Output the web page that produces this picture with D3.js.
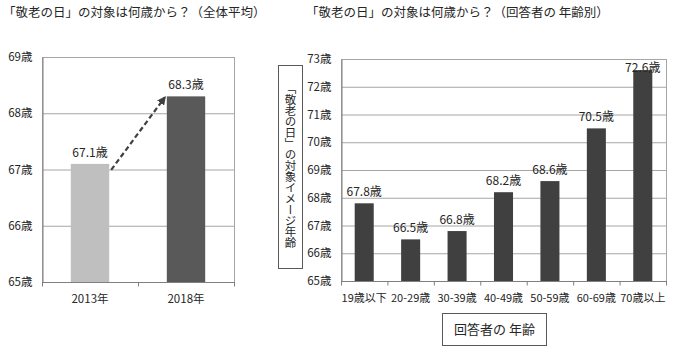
<!DOCTYPE html>
<html><head><meta charset="utf-8">
<script src="https://cdn.jsdelivr.net/npm/d3@7"></script>
<style>
body{margin:0;background:#fff;}
svg{display:block;font-family:"Noto Sans CJK JP","Noto Sans",sans-serif;}
</style></head>
<body><svg id="c" width="697" height="351"></svg>
<script>
// ---- data ----
const leftTitle = "「敬老の日」の対象は何歳から？（全体平均）";
const rightTitle = "「敬老の日」の対象は何歳から？（回答者の 年齢別）";
const leftCategories = ["2013年", "2018年"];
const leftValues = [67.1, 68.3];
const leftColors = ["#bfbfbf", "#595959"];
const leftTicks = [65, 66, 67, 68, 69];
const rightCategories = ["19歳以下", "20-29歳", "30-39歳", "40-49歳", "50-59歳", "60-69歳", "70歳以上"];
const rightValues = [67.8, 66.5, 66.8, 68.2, 68.6, 70.5, 72.6];
const rightTicks = [65, 66, 67, 68, 69, 70, 71, 72, 73];
const yAxisTitle = "「敬老の日」の対象イメージ年齢";
const xAxisTitle = "回答者の 年齢";

const svg = d3.select("#c");
const txt = "#262626";
const gridCol = "#a6a6a6";

// titles
svg.append("text").attr("x", 3).attr("y", 17).attr("font-size", 12.5).attr("fill", txt).text(leftTitle);
svg.append("text").attr("x", 306).attr("y", 17).attr("font-size", 12.5).attr("fill", txt).text(rightTitle);

function drawChart(opt) {
  const {x0, x1, y0, y1, cats, vals, ticks, colors, barFrac, labelFs, xFs} = opt;
  const x = d3.scaleBand().domain(cats).range([x0, x1]).padding(0);
  const y = d3.scaleLinear().domain([ticks[0], ticks[ticks.length - 1]]).range([y1, y0]);
  const g = svg.append("g");
  // gridlines
  g.selectAll("line.grid").data(ticks).join("line")
    .attr("x1", x0).attr("x2", x1).attr("y1", d => y(d) + 0.5).attr("y2", d => y(d) + 0.5)
    .attr("stroke", gridCol).attr("stroke-width", 1);
  // plot border
  g.append("rect").attr("x", x0 + 0.5).attr("y", y0 + 0.5).attr("width", x1 - x0).attr("height", y1 - y0)
    .attr("fill", "none").attr("stroke", gridCol);
  // bars
  const bw = x.bandwidth() * barFrac;
  g.selectAll("rect.bar").data(vals).join("rect")
    .attr("x", (d, i) => x(cats[i]) + (x.bandwidth() - bw) / 2)
    .attr("y", d => y(d)).attr("width", bw).attr("height", d => y1 - y(d))
    .attr("fill", (d, i) => colors[i]);
  // y axis
  const ya = d3.axisLeft(y).tickValues(ticks).tickFormat(d => d + "歳").tickSize(0).tickPadding(10);
  const yg = g.append("g").attr("transform", `translate(${x0 + 0.5},0)`).call(ya)
    .attr("font-family", null).attr("font-size", null);
  yg.select(".domain").attr("stroke", "#7f7f7f");
  yg.selectAll("text").attr("font-size", 11.5).attr("fill", txt);
  // x axis
  const xg = g.append("g").attr("transform", `translate(0,${y1 + 0.5})`);
  xg.append("line").attr("x1", x0).attr("x2", x1 + 1).attr("stroke", "#7f7f7f");
  const bounds = cats.map(c => x(c)).concat([x1]);
  xg.selectAll("line.tk").data(bounds).join("line")
    .attr("x1", d => d + 0.5).attr("x2", d => d + 0.5).attr("y1", 0).attr("y2", 4).attr("stroke", "#7f7f7f");
  xg.selectAll("text").data(cats).join("text")
    .attr("x", d => x(d) + x.bandwidth() / 2).attr("y", 20).attr("text-anchor", "middle")
    .attr("font-size", xFs).attr("fill", txt).text(d => d);
  // value labels
  g.selectAll("text.val").data(vals).join("text")
    .attr("x", (d, i) => x(cats[i]) + x.bandwidth() / 2)
    .attr("y", d => Math.max(y(d) - 7, y0 + 13))
    .attr("text-anchor", "middle").attr("font-size", labelFs).attr("fill", txt)
    .text(d => d.toFixed(1) + "歳");
  return {x, y, bw};
}

const L = drawChart({x0: 42, x1: 234, y0: 57, y1: 282, cats: leftCategories, vals: leftValues,
  ticks: leftTicks, colors: leftColors, barFrac: 0.4, labelFs: 12, xFs: 11.5});
const R = drawChart({x0: 341, x1: 666, y0: 59, y1: 281, cats: rightCategories, vals: rightValues,
  ticks: rightTicks, colors: rightValues.map(() => "#404040"), barFrac: 0.41, labelFs: 12, xFs: 11});

// arrow in left chart
const defs = svg.append("defs");
defs.append("marker").attr("id", "ah").attr("viewBox", "0 0 10 10").attr("refX", 8).attr("refY", 5)
  .attr("markerWidth", 4).attr("markerHeight", 4).attr("orient", "auto")
  .append("path").attr("d", "M0,0L10,5L0,10z").attr("fill", "#404040");
const ax0 = L.x(leftCategories[0]) + (L.x.bandwidth() + L.bw) / 2 + 2;
const ay0 = L.y(leftValues[0]) + 6;
const ax1 = L.x(leftCategories[1]) + (L.x.bandwidth() - L.bw) / 2 - 2;
const ay1 = L.y(leftValues[1]) + 1;
svg.append("line").attr("x1", ax0).attr("y1", ay0).attr("x2", ax1).attr("y2", ay1)
  .attr("stroke", "#404040").attr("stroke-width", 2.2).attr("stroke-dasharray", "5,3")
  .attr("marker-end", "url(#ah)");

// vertical y-axis title box
svg.append("rect").attr("x", 278.5).attr("y", 65.5).attr("width", 24).attr("height", 203)
  .attr("fill", "#fff").attr("stroke", "#595959");
svg.append("text").attr("x", 290.5).attr("y", 83)
  .style("writing-mode", "vertical-rl").style("text-orientation", "upright")
  .style("letter-spacing", "-0.5px")
  .attr("font-size", 11.5).attr("fill", txt).text(yAxisTitle);

// x-axis title box
svg.append("rect").attr("x", 442.5).attr("y", 313.5).attr("width", 104).attr("height", 32)
  .attr("fill", "#fff").attr("stroke", "#595959");
svg.append("text").attr("x", 494.5).attr("y", 334).attr("text-anchor", "middle")
  .attr("font-size", 13).attr("fill", txt).text(xAxisTitle);
</script></body></html>
